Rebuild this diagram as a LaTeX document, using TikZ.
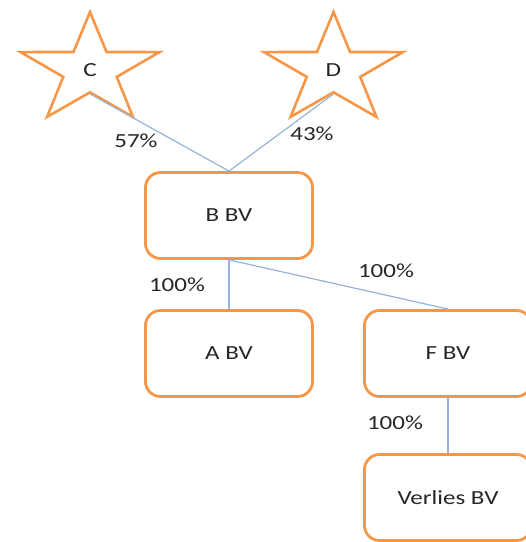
\documentclass[tikz,border=0pt]{standalone}
\usepackage{fontspec}
\setmainfont{Carlito}
\newfontfamily\breitfont[FakeStretch=1.25]{Carlito}
\usetikzlibrary{shapes.geometric}
\definecolor{orangerand}{HTML}{F79646}
\definecolor{linienblau}{HTML}{95B3D7}

\begin{document}
\begin{tikzpicture}[x=1pt,y=1pt,
    firma/.style={draw=orangerand, line width=2.8pt, rounded corners=15pt,
      minimum width=167pt, minimum height=86pt,
      font=\breitfont\fontsize{20}{24}\selectfont, text=black!85},
    stern/.style={star, star points=5, star point ratio=2.6, draw=orangerand,
      line width=2.6pt, minimum size=116pt, inner sep=0pt, xscale=1.26,
      transform shape, font=\fontsize{20}{24}\selectfont, text=black!85},
    anteil/.style={font=\breitfont\fontsize{20}{24}\selectfont, text=black!85},
    verbindung/.style={draw=linienblau, line width=1.2pt}]
  \useasboundingbox (0,0) rectangle (526,-542);
  % Sterne oben:
  \begin{scope}[shift={(90,-70)}]
    \node[stern] (c) at (0,0) {C};
  \end{scope}
  \begin{scope}[shift={(333.5,-70)}]
    \node[stern] (d) at (0,0) {D};
  \end{scope}
  % Gesellschaften:
  \node[firma] (b) at (229,-215.5) {B BV};
  \node[firma] (a) at (229,-353.5) {A BV};
  \node[firma] (f) at (448,-353.5) {F BV};
  \node[firma] (v) at (448,-497.5) {Verlies BV};
  % Linien:
  \draw[verbindung] (c.inner point 3) -- (b.north);
  \draw[verbindung] (d.inner point 3) -- (b.north);
  \draw[verbindung] (b.south) -- (a.north);
  \draw[verbindung] (b.south) -- (f.north);
  \draw[verbindung] (f.south) -- (v.north);
  % Prozente:
  \node[anteil] (pc) at (136,-141) {57\%};
  \node[anteil] (pd) at (312,-134) {43\%};
  \node[anteil] (pa) at (177,-285) {100\%};
  \node[anteil] (pf) at (386,-271) {100\%};
  \node[anteil] (pv) at (395,-423) {100\%};
\end{tikzpicture}
\end{document}
